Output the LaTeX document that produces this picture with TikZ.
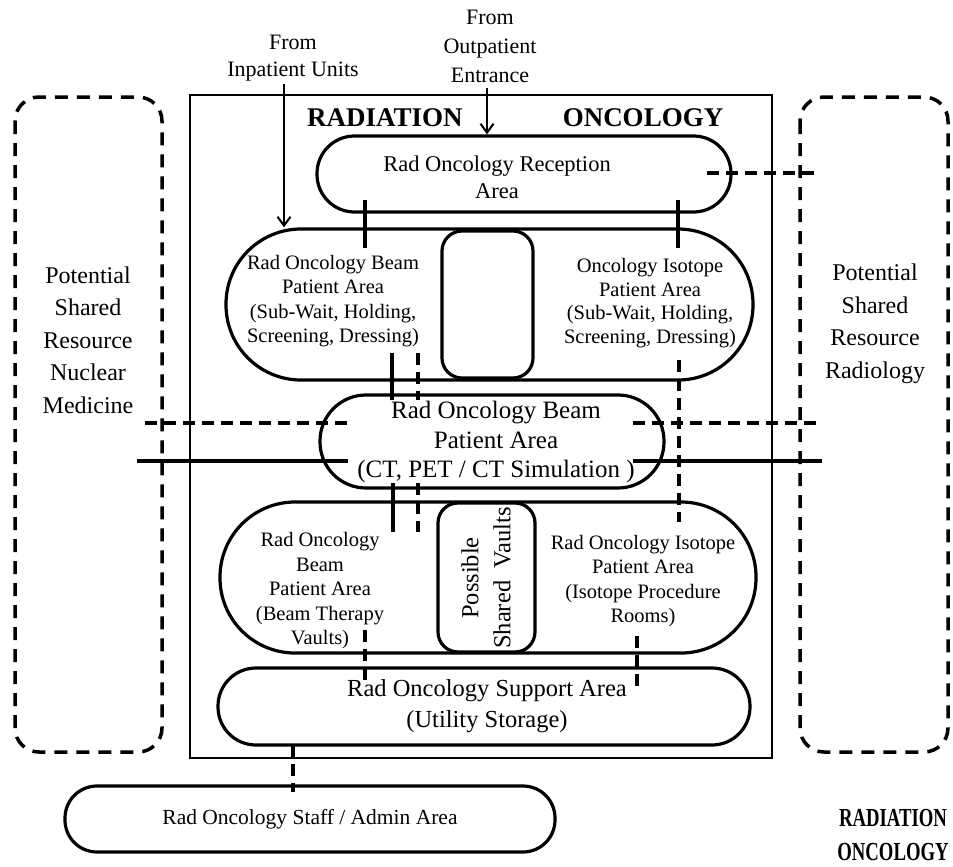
\documentclass[tikz,border=0pt]{standalone}
\usepackage{fontspec}
\setmainfont{Liberation Serif}
\usetikzlibrary{arrows.meta,calc}
\begin{document}
\begin{tikzpicture}[x=1pt,y=-1pt,
  pill/.style={draw,line width=3.2pt,rectangle,inner sep=0pt},
  frame/.style={draw,line width=1.8pt},
  zone/.style={draw,line width=3.5pt,dash pattern=on 13pt off 9pt,rounded corners=24pt},
  solidlink/.style={line width=4.5pt},
  dashlink/.style={line width=3.2pt,dash pattern=on 12pt off 7pt},
  flow/.style={line width=2.2pt,-{Straight Barb[length=9pt,width=13pt,line width=2pt]}},
  lbl/.style={align=center,inner sep=0pt,font=\fontsize{20.5}{24.5}\selectfont},
  head/.style={inner sep=0pt,font=\fontsize{27}{30}\selectfont\bfseries}]
\useasboundingbox (0,0) rectangle (953,867);

% outer department frame and neighbouring resource zones
\draw[frame] (190,95) rectangle (772,758);
\draw[zone] (15,97) rectangle (162,752);
\draw[zone] (800,97) rectangle (948,752);

% areas
\node[pill,minimum width=414pt,minimum height=76pt,rounded corners=37.5pt] (recep) at (524,174) {};
\node[pill,minimum width=527pt,minimum height=151pt,rounded corners=75pt] (upper) at (489.5,304.5) {};
\node[pill,minimum width=91pt,minimum height=147pt,rounded corners=20pt] (upinner) at (487.5,304.5) {};
\node[pill,minimum width=344pt,minimum height=93pt,rounded corners=46pt] (ct) at (492,441.5) {};
\node[pill,minimum width=536pt,minimum height=151pt,rounded corners=75pt] (lower) at (488,577.5) {};
\node[pill,minimum width=97pt,minimum height=149pt,rounded corners=20pt] (lowinner) at (486.5,577.5) {};
\node[pill,minimum width=532pt,minimum height=77pt,rounded corners=38pt] (support) at (484,706.5) {};
\node[pill,minimum width=490pt,minimum height=66pt,rounded corners=32pt] (staff) at (310,819) {};

% labels
\node[lbl,font=\fontsize{22}{27}\selectfont] (tin) at (293,58) {From\\Inpatient Units};
\node[lbl,font=\fontsize{22}{29}\selectfont] (tout) at (490,46) {From\\Outpatient\\Entrance};
\node[head] (h1) at (385,118) {RADIATION};
\node[head] (h2) at (643,118) {ONCOLOGY};
\node[lbl,font=\fontsize{22.5}{27}\selectfont] (trecep) at (497,177) {Rad Oncology Reception\\Area};
\node[lbl] (tup1) at (333,301) {Rad Oncology Beam\\Patient Area\\(Sub-Wait, Holding,\\Screening, Dressing)};
\node[lbl,font=\fontsize{20.5}{23.5}\selectfont] (tup2) at (650,303) {Oncology Isotope\\Patient Area\\(Sub-Wait, Holding,\\Screening, Dressing)};
\node[lbl,font=\fontsize{25}{29.5}\selectfont] (tct) at (496,442) {Rad Oncology Beam\\Patient Area\\(CT, PET / CT Simulation )};
\node[lbl,font=\fontsize{20.5}{24.5}\selectfont] (tlow1) at (320,591) {Rad Oncology\\Beam\\Patient Area\\(Beam Therapy\\Vaults)};
\node[lbl,font=\fontsize{20.5}{24.5}\selectfont] (tlow2) at (643,581) {Rad Oncology Isotope\\Patient Area\\(Isotope Procedure\\Rooms)};
\node[lbl,font=\fontsize{24.5}{32}\selectfont,rotate=90] (tvault) at (486,578) {Possible\\Shared\ \ Vaults};
\node[lbl,font=\fontsize{24.5}{31}\selectfont] (tsup) at (487,706) {Rad Oncology Support Area\\(Utility Storage)};
\node[lbl,font=\fontsize{21.5}{26}\selectfont] (tstaff) at (310,819) {Rad Oncology Staff / Admin Area};
\node[lbl,font=\fontsize{24}{32.5}\selectfont] (tnm) at (88,340) {Potential\\Shared\\Resource\\Nuclear\\Medicine};
\node[lbl,font=\fontsize{24}{32.5}\selectfont] (trad) at (875,324) {Potential\\Shared\\Resource\\Radiology};
\node[lbl,font=\fontsize{26}{34}\selectfont\bfseries] (hcorner) at (893,835) {\scalebox{0.72}[1]{RADIATION}\\\scalebox{0.72}[1]{ONCOLOGY}};

% entrances
\coordinate (inA) at (284,84);
\coordinate (outA) at (487,88);
\draw[flow] (inA) -- (inA |- upper.north);
\draw[flow] (outA) -- (outA |- recep.north);

% connections between areas
\coordinate (a1) at (365,200); \coordinate (a2) at (365,248);
\coordinate (b1) at (678,200); \coordinate (b2) at (678,248);
\draw[solidlink] (a1) -- (a2);
\draw[solidlink] (b1) -- (b2);
\coordinate (c1) at (707,173); \coordinate (c2) at (819,173);
\draw[dashlink] (c1) -- (c2);

\coordinate (d1) at (392,353); \coordinate (d2) at (392,400);
\coordinate (e1) at (418,353); \coordinate (e2) at (418,400);
\draw[solidlink] (d1) -- (d2);
\draw[dashlink] (e1) -- (e2);

\coordinate (f1) at (145,423); \coordinate (f2) at (348,423);
\coordinate (g1) at (633,423); \coordinate (g2) at (822,423);
\draw[dashlink] (f1) -- (f2);
\draw[dashlink] (g1) -- (g2);
\coordinate (h1a) at (137,461); \coordinate (h2a) at (348,461);
\coordinate (i1) at (633,461); \coordinate (i2) at (822,461);
\draw[solidlink] (h1a) -- (h2a);
\draw[solidlink] (i1) -- (i2);

\coordinate (j1) at (679,360); \coordinate (j2) at (679,522);
\draw[dashlink] (j1) -- (j2);

\coordinate (k1) at (393,483); \coordinate (k2) at (393,532);
\coordinate (m1) at (418,483); \coordinate (m2) at (418,532);
\draw[solidlink] (k1) -- (k2);
\draw[dashlink] (m1) -- (m2);

\coordinate (n1) at (365,630); \coordinate (n2) at (365,682);
\coordinate (p1) at (637,636); \coordinate (p2) at (637,688);
\draw[dashlink] (n1) -- (n2);
\draw[dashlink] (p1) -- (p2);

\coordinate (q1) at (293,745);
\draw[dashlink] (q1) -- ($(q1 |- staff.north)+(0,8)$);
\end{tikzpicture}
\end{document}
